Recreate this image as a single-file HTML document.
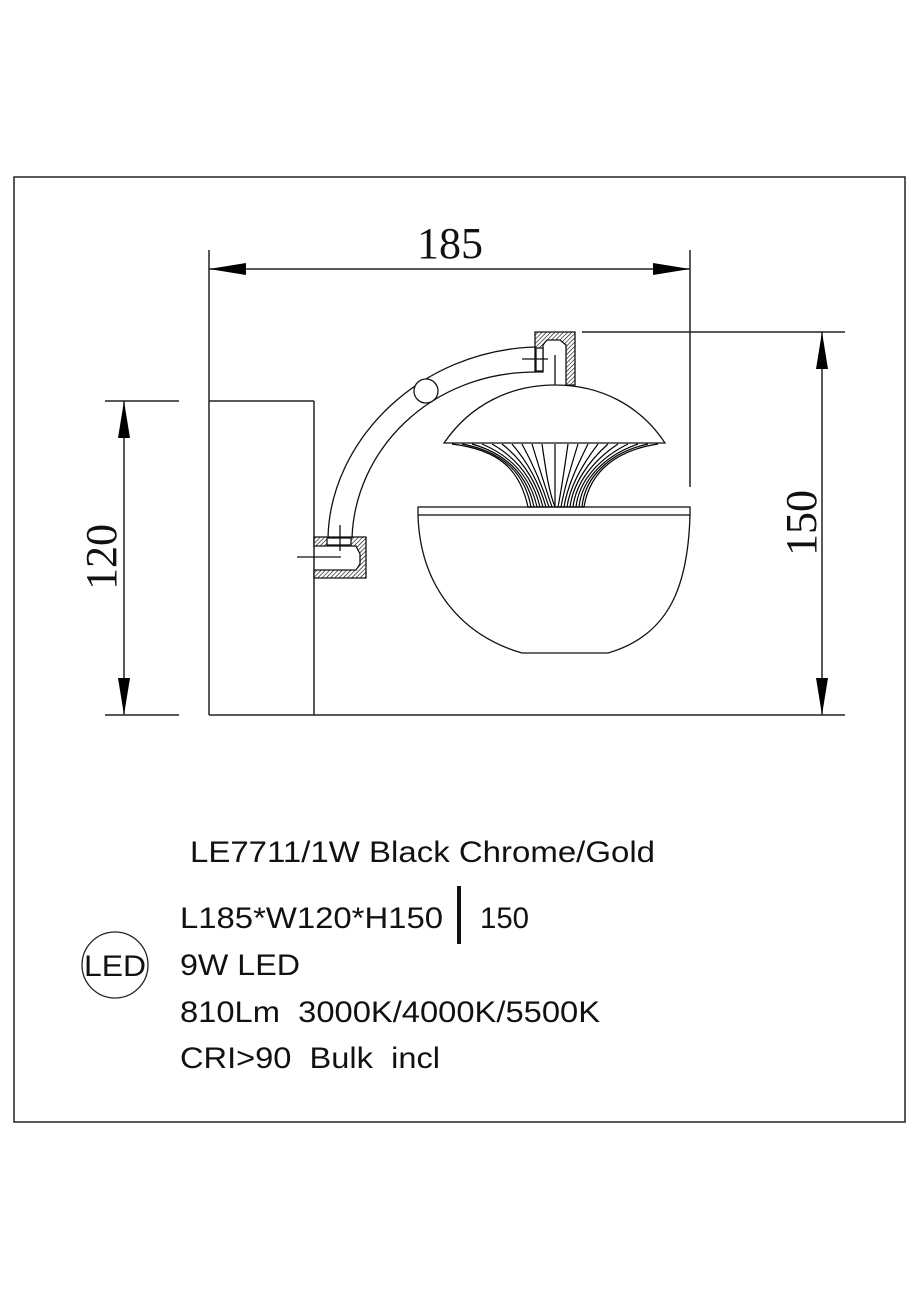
<!DOCTYPE html>
<html><head><meta charset="utf-8"><style>
html,body{margin:0;padding:0;background:#fff;}
svg{display:block;}
</style></head><body>
<svg width="919" height="1300" viewBox="0 0 919 1300" xmlns="http://www.w3.org/2000/svg">
<defs>
<pattern id="h" width="3" height="3" patternUnits="userSpaceOnUse" patternTransform="rotate(45)">
<rect width="3" height="3" fill="#fff"/><line x1="0" y1="0" x2="0" y2="3" stroke="#000" stroke-width="1.2"/>
</pattern>
</defs>
<g fill="none" stroke="#222" stroke-width="1.5">
<rect x="14" y="177" width="891" height="945"/>
<line x1="209" y1="250" x2="209" y2="715"/>
<line x1="690" y1="250" x2="690" y2="487"/>
<line x1="209" y1="269" x2="690" y2="269"/>
<line x1="582" y1="332" x2="845" y2="332"/>
<line x1="822" y1="332" x2="822" y2="715"/>
<line x1="209" y1="715" x2="845" y2="715"/>
<line x1="105" y1="401" x2="179" y2="401"/>
<line x1="105" y1="715" x2="179" y2="715"/>
<line x1="124" y1="401" x2="124" y2="715"/>
<line x1="209" y1="401" x2="314" y2="401"/>
<line x1="314" y1="401" x2="314" y2="715"/>
</g>
<g fill="#000">
<polygon points="209,269 246,263 246,275"/>
<polygon points="690,269 653,263 653,275"/>
<polygon points="822,332 816,369 828,369"/>
<polygon points="822,715 816,678 828,678"/>
<polygon points="124,401 118,438 130,438"/>
<polygon points="124,715 118,678 130,678"/>
</g>
<g font-family="'Liberation Serif',serif" font-size="44" fill="#111">
<text x="450" y="258" text-anchor="middle">185</text>
<text transform="translate(816,523) rotate(-90)" text-anchor="middle">150</text>
<text transform="translate(116,557) rotate(-90)" text-anchor="middle">120</text>
</g>
<g stroke="#111" stroke-width="1.3" fill="none">
<path d="M314,537 H366 V578 H314 V570 H356 L360,564 V554 L356,546 H314 Z" fill="url(#h)"/>
<rect x="327" y="538" width="24" height="7" fill="#fff"/>
<path d="M535,332 H575 V385 H566 V345 L560,340 H547 L543,345 V372 H535 Z" fill="url(#h)"/>
<rect x="536" y="348" width="7" height="23" fill="#fff"/>
<path d="M328,538 C330,440 420,350 536,347"/>
<path d="M352,538 C355,450 430,372 536,372"/>
<circle cx="426" cy="391" r="12" fill="#fff"/>
<line x1="340" y1="525" x2="340" y2="551"/>
<line x1="297" y1="557" x2="341" y2="557"/>
<line x1="522" y1="359" x2="548" y2="359"/>
<line x1="555" y1="355" x2="555" y2="403"/>
<path d="M444,443 C470,405 510,385 555,385 C600,385 640,405 665,443 Z" fill="#fff"/>
<rect x="418" y="507" width="272" height="8" fill="#fff"/>
<path d="M418,515 C420,585 460,635 522,653 H608 C670,635 688,585 690,515"/>
</g>
<g stroke="#000" stroke-width="1.2" fill="none">
<path d="M452,444 C500,450 520,470 528,507"/>
<path d="M462,444 C505,452 525,475 531,507"/>
<path d="M472,444 C510,455 528,478 534,507"/>
<path d="M482,444 C515,458 531,480 537,507"/>
<path d="M492,444 C520,460 534,482 540,507"/>
<path d="M502,444 C525,462 537,484 543,507"/>
<path d="M512,444 C530,465 540,486 546,507"/>
<path d="M522,444 C535,468 543,488 549,507"/>
<path d="M532,444 C540,470 546,490 552,507"/>
<path d="M542,444 C546,472 549,492 555,507"/>
<path d="M555,444 L555,507"/>
<path d="M568,444 C564,472 561,492 558,507"/>
<path d="M578,444 C570,470 564,490 561,507"/>
<path d="M588,444 C576,468 567,488 564,507"/>
<path d="M598,444 C582,465 570,486 567,507"/>
<path d="M608,444 C588,462 573,484 570,507"/>
<path d="M618,444 C594,460 576,482 573,507"/>
<path d="M628,444 C600,458 579,480 576,507"/>
<path d="M638,444 C606,455 582,478 579,507"/>
<path d="M648,444 C612,452 585,475 582,507"/>
<path d="M658,444 C618,450 590,470 584,507"/>
</g>
<line x1="528" y1="507" x2="584" y2="507" stroke="#000" stroke-width="1.3"/>
<g font-family="'Liberation Sans',sans-serif" font-size="30" fill="#111">
<text x="190" y="862" textLength="465" lengthAdjust="spacingAndGlyphs">LE7711/1W Black Chrome/Gold</text>
<text x="180" y="928" textLength="263" lengthAdjust="spacingAndGlyphs">L185*W120*H150</text>
<text x="480" y="928" textLength="49" lengthAdjust="spacingAndGlyphs">150</text>
<text x="180" y="975" textLength="120" lengthAdjust="spacingAndGlyphs">9W LED</text>
<text x="180" y="1022" textLength="420" lengthAdjust="spacingAndGlyphs" xml:space="preserve">810Lm  3000K/4000K/5500K</text>
<text x="180" y="1068" textLength="260" lengthAdjust="spacingAndGlyphs" xml:space="preserve">CRI&gt;90  Bulk  incl</text>
<text x="84" y="976" textLength="62" lengthAdjust="spacingAndGlyphs">LED</text>
</g>
<line x1="459" y1="886" x2="459" y2="944" stroke="#111" stroke-width="4"/>
<circle cx="115" cy="965" r="33" fill="none" stroke="#222" stroke-width="1.3"/>
</svg>
</body></html>
